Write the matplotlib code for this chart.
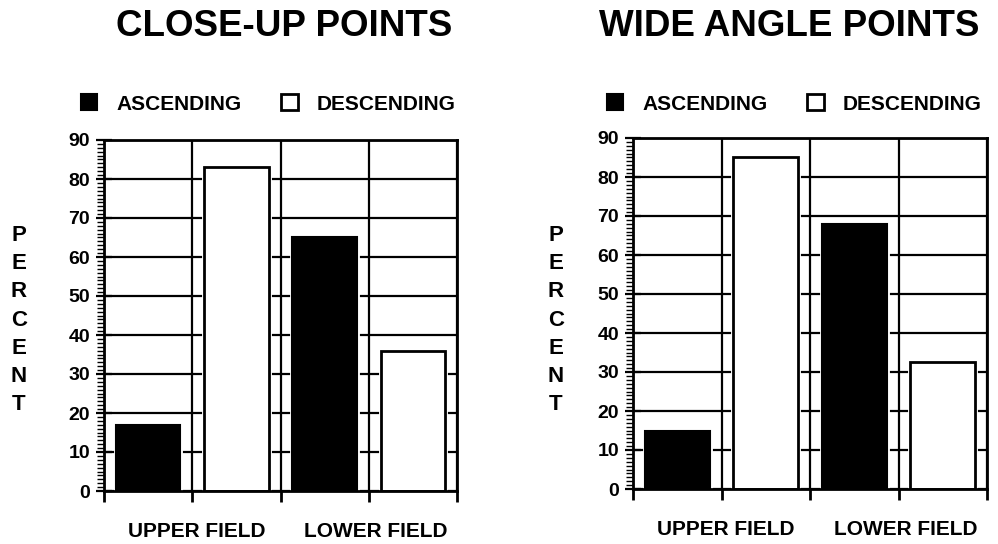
import matplotlib
matplotlib.use("Agg")
import matplotlib.pyplot as plt
from matplotlib.ticker import MultipleLocator

plt.rcParams['font.family'] = ['Liberation Sans', 'DejaVu Sans']
plt.rcParams['font.weight'] = 'bold'

titles = ["CLOSE-UP POINTS", "WIDE ANGLE POINTS"]
series_names = ["ASCENDING", "DESCENDING"]
groups = ["UPPER FIELD", "LOWER FIELD"]
closeup_ascending = [17, 65]
closeup_descending = [83, 36]
wide_ascending = [15, 68]
wide_descending = [85, 32.5]
yticks = [0, 10, 20, 30, 40, 50, 60, 70, 80, 90]

panels = [
    (closeup_ascending, closeup_descending),
    (wide_ascending, wide_descending),
]

W, H = 998, 544
fig = plt.figure(figsize=(W / 100, H / 100), dpi=100)

axes_px = [(104, 457, 491, 140), (633, 987, 489, 138)]
title_x = [284, 789]
legend_cx = [268, 794]
ylabel_x = [19, 556]

for i, (asc, desc) in enumerate(panels):
    x0, x1, yb, yt = axes_px[i]
    ax = fig.add_axes([x0 / W, (H - yb) / H, (x1 - x0) / W, (yb - yt) / H])
    ax.set_xlim(0, 4)
    ax.set_ylim(0, 90)

    pos_asc = [0.5, 2.5]
    pos_desc = [1.5, 3.5]
    width = 0.73
    # white halo around bars
    ax.bar(pos_asc, asc, width=width, color='white', edgecolor='white', linewidth=3.5, zorder=3)
    ax.bar(pos_desc, desc, width=width, color='white', edgecolor='white', linewidth=3.5, zorder=3)
    b1 = ax.bar(pos_asc, asc, width=width, color='black', edgecolor='black', linewidth=1.5,
                zorder=4, label=series_names[0])
    b2 = ax.bar(pos_desc, desc, width=width, color='white', edgecolor='black', linewidth=2.0,
                zorder=4, label=series_names[1])

    ax.set_yticks(yticks)
    ax.yaxis.set_minor_locator(MultipleLocator(1))
    ax.set_xticks([0, 1, 2, 3, 4])
    ax.set_xticklabels([])
    ax.grid(True, which='major', color='black', linewidth=1.6, zorder=1)
    ax.set_axisbelow(True)
    for s in ax.spines.values():
        s.set_linewidth(2.0)
        s.set_zorder(5)
    ax.tick_params(axis='y', which='major', direction='inout', length=12, width=1.6,
                   pad=4, labelsize=14)
    ax.tick_params(axis='y', which='minor', direction='out', length=5, width=1.0)
    ax.tick_params(axis='x', which='major', direction='out', length=8, width=2.0)
    for lab in ax.get_yticklabels():
        lab.set_fontweight('bold')

    for gx, g in zip([1.05, 3.08], groups):
        ax.text(gx, -10.5, g, ha='center', va='center', fontsize=15, fontweight='bold')

    fig.text(title_x[i] / W, 1 - 26 / H, titles[i], ha='center', va='center',
             fontsize=26.5, fontweight='bold')
    fig.text(ylabel_x[i] / W, 1 - 320 / H, "P\nE\nR\nC\nE\nN\nT", ha='center', va='center',
             fontsize=16, fontweight='bold', linespacing=1.44)

    fig.legend(handles=[b1, b2], loc='center', ncol=2, frameon=False,
               bbox_to_anchor=(legend_cx[i] / W, 1 - 104 / H),
               prop={'size': 15, 'weight': 'bold'},
               handlelength=0.8, handleheight=0.8, handletextpad=0.9,
               columnspacing=1.9, borderaxespad=0, borderpad=0)

fig.savefig("out.png", dpi=100)
